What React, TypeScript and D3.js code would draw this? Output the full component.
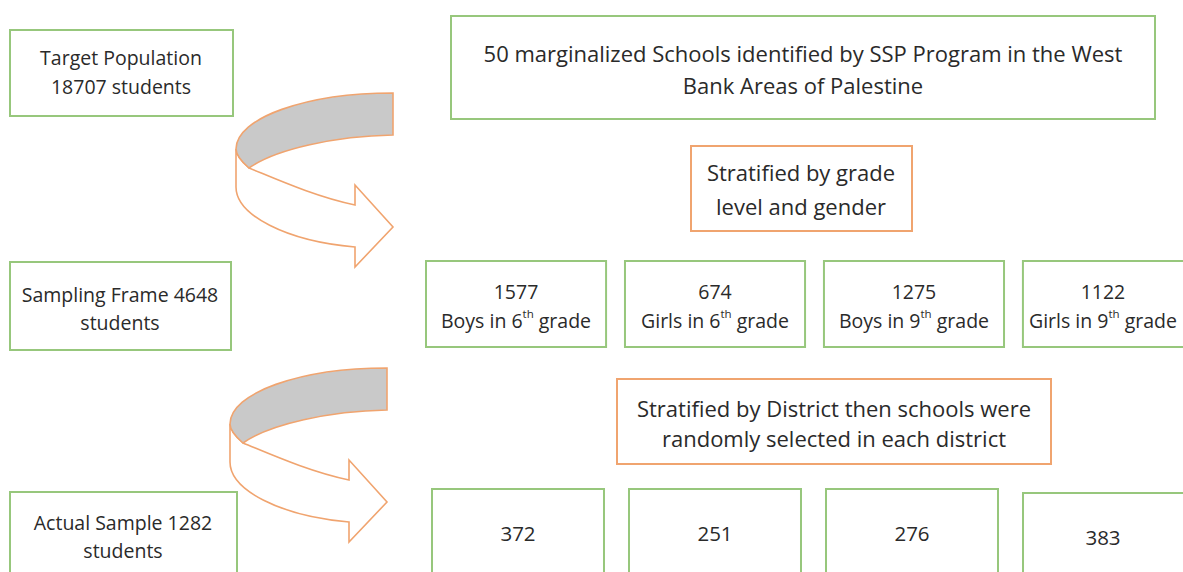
import React from "react";
import * as d3 from "d3";

// ---- data -------------------------------------------------------------
const stageLabels = [
  ["Target Population", "18707 students"],
  ["Sampling Frame 4648", "students"],
  ["Actual Sample 1282", "students"],
];
const schoolsText = [
  "50 marginalized Schools identified by SSP Program in the West",
  "Bank Areas of Palestine",
];
const gradeStratText = ["Stratified by grade", "level and gender"];
const districtStratText = [
  "Stratified by District then schools were",
  "randomly selected in each district",
];
const gradeCounts = [1577, 674, 1275, 1122];
const gradeGroups = [
  { who: "Boys", grade: "6" },
  { who: "Girls", grade: "6" },
  { who: "Boys", grade: "9" },
  { who: "Girls", grade: "9" },
];
const districtCounts = [372, 251, 276, 383];

// ---- style ------------------------------------------------------------
const W = 1183;
const H = 572;
const GREEN = "#97c77c";
const ORANGE = "#f0a46f";
const GRAY = "#c9c9c9";
const INK = "#2a2a2a";
const FONT = "'Open Sans', Lato, sans-serif";

// curved "turn" arrow, drawn in a local box with origin at leftmost/top
function bandPath() {
  const p = d3.path();
  p.moveTo(157, 0);
  p.lineTo(157, 42);
  p.bezierCurveTo(100, 43, 40, 56, 13, 75);
  p.bezierCurveTo(5, 68, 0, 62, 0, 56);
  p.bezierCurveTo(0, 25, 70, 0, 157, 0);
  p.closePath();
  return p.toString();
}
function shaftPath() {
  const p = d3.path();
  p.moveTo(0, 56);
  p.lineTo(0, 94);
  p.bezierCurveTo(0, 122, 50, 148, 119, 154);
  p.lineTo(119, 174);
  p.lineTo(157, 134);
  p.lineTo(119, 92);
  p.lineTo(119, 112);
  p.bezierCurveTo(80, 104, 40, 86, 13, 75);
  p.bezierCurveTo(5, 68, 0, 62, 0, 56);
  p.closePath();
  return p.toString();
}

function Box({ x, y, w, h, color }) {
  return (
    <rect x={x} y={y} width={w} height={h} fill="#fff" stroke={color} strokeWidth={2} />
  );
}

function Lines({ cx, cy, lines, size = 19.5, gap = 30 }) {
  const y0 = cy - ((lines.length - 1) * gap) / 2;
  return (
    <g>
      {lines.map((l, i) => (
        <text
          key={i}
          x={cx}
          y={y0 + i * gap}
          textAnchor="middle"
          dominantBaseline="central"
          fontSize={size}
          fill={INK}
          fontFamily={FONT}
        >
          {l}
        </text>
      ))}
    </g>
  );
}

function TurnArrow({ x, y }) {
  return (
    <g transform={`translate(${x},${y})`} fill="none" stroke={ORANGE} strokeWidth={1.6}>
      <path d={shaftPath()} fill="#fff" strokeLinejoin="miter" />
      <path d={bandPath()} fill={GRAY} />
    </g>
  );
}

export default function App() {
  // column layout of the four sub-group boxes
  const idx = d3.range(4).map(String);
  const gradeX = d3.scaleBand().domain(idx).range([426, 1203]).paddingInner(0.095).paddingOuter(0);
  const distX = d3.scaleBand().domain(idx).range([432, 1195]).paddingInner(0.127).paddingOuter(0);
  // keep labels of the last (cut) column inside the visible page
  const centre = (x: number, w: number) => Math.min(x + w / 2, (x + W) / 2);

  return (
    <svg
      width={W}
      height={H}
      style={{ position: "absolute", left: 0, top: 0, background: "#fff" }}
    >
      {/* left column: stage labels */}
      <Box x={10} y={30} w={223} h={86} color={GREEN} />
      <Lines cx={121} cy={72} lines={stageLabels[0]} gap={29} />
      <Box x={10} y={262} w={221} h={88} color={GREEN} />
      <Lines cx={120} cy={308} lines={stageLabels[1]} gap={28} />
      <Box x={10} y={492} w={227} h={100} color={GREEN} />
      <Lines cx={123} cy={536} lines={stageLabels[2]} gap={28} />

      <TurnArrow x={236} y={93} />
      <TurnArrow x={230} y={368} />

      {/* schools */}
      <Box x={451} y={16} w={704} h={103} color={GREEN} />
      <Lines cx={803} cy={69} lines={schoolsText} size={22} gap={32} />

      <Box x={691} y={146} w={221} h={85} color={ORANGE} />
      <Lines cx={801} cy={189} lines={gradeStratText} size={22} gap={34} />

      {/* grade / gender strata */}
      {gradeCounts.map((c, i) => {
        const x = gradeX(String(i));
        const w = gradeX.bandwidth();
        const cx = centre(x, w);
        const g = gradeGroups[i];
        return (
          <g key={i}>
            <Box x={x} y={261} w={w} h={86} color={GREEN} />
            <text x={cx} y={291} textAnchor="middle" dominantBaseline="central"
              fontSize={19.5} fill={INK} fontFamily={FONT}>{c}</text>
            <text x={cx} y={320} textAnchor="middle" dominantBaseline="central"
              fontSize={19.5} fill={INK} fontFamily={FONT}>
              {`${g.who} in ${g.grade}`}
              <tspan fontSize={11.5} dy={-7}>th</tspan>
              <tspan dy={7}> grade</tspan>
            </text>
          </g>
        );
      })}

      <Box x={617} y={379} w={434} h={85} color={ORANGE} />
      <Lines cx={834} cy={423} lines={districtStratText} size={22} gap={30} />

      {/* district sample */}
      {districtCounts.map((c, i) => {
        const x = distX(String(i));
        const w = distX.bandwidth();
        const top = i === 3 ? 493 : 489;
        return (
          <g key={i}>
            <Box x={x} y={top} w={w} h={110} color={GREEN} />
            <text x={centre(x, w)} y={top + 44} textAnchor="middle" dominantBaseline="central"
              fontSize={20.5} fill={INK} fontFamily={FONT}>{c}</text>
          </g>
        );
      })}
    </svg>
  );
}
